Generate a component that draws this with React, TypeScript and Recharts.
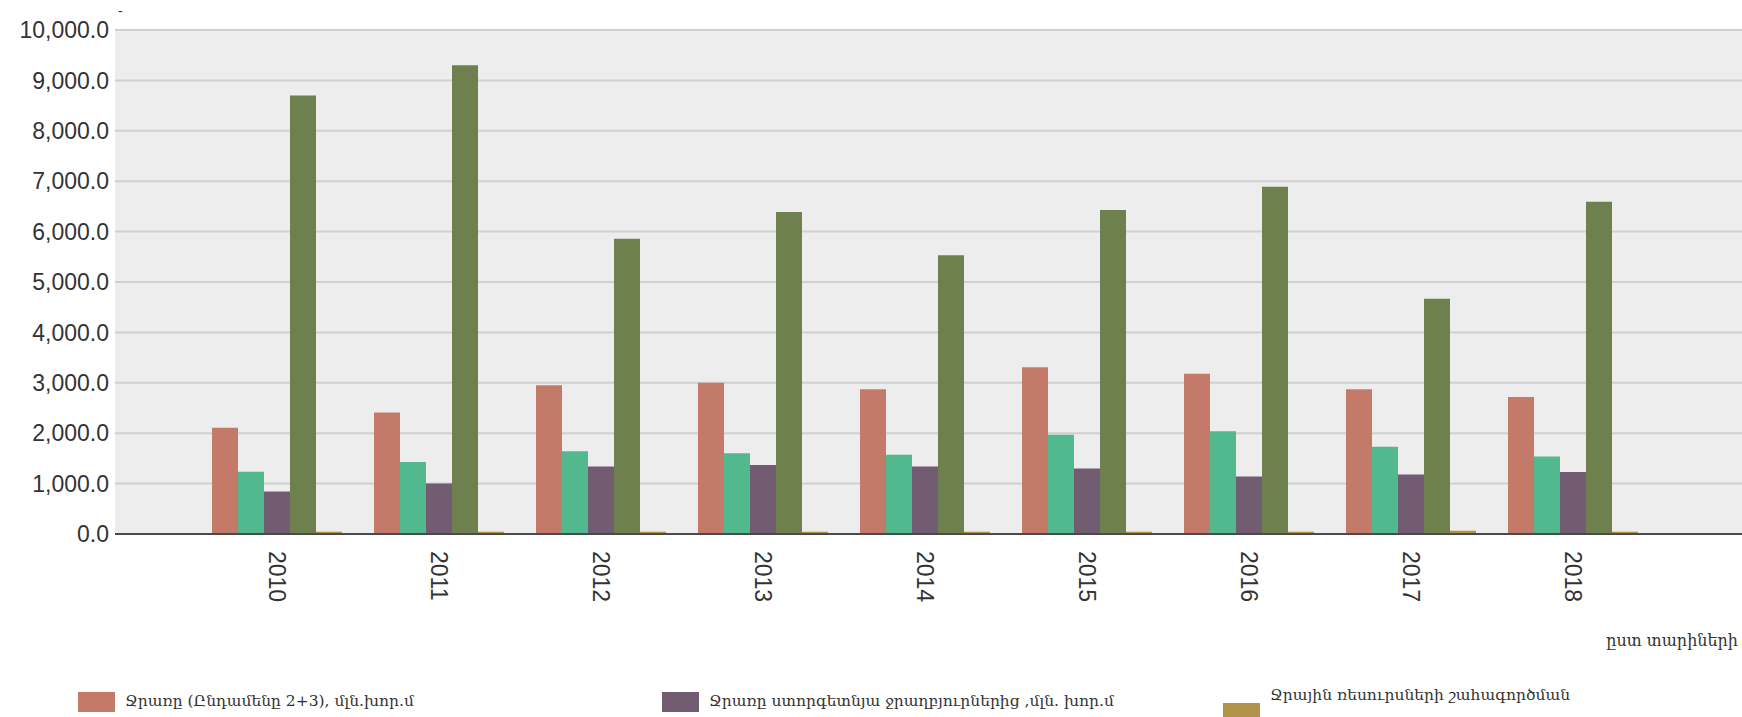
import React from 'react';
import { BarChart, Bar, XAxis, YAxis, CartesianGrid, Tooltip } from 'recharts';

// Values (million cubic metres)
const years = ['2010', '2011', '2012', '2013', '2014', '2015', '2016', '2017', '2018'];
const totalWithdrawal = [2110, 2410, 2950, 3000, 2870, 3310, 3180, 2870, 2720];
const surfaceWithdrawal = [1235, 1430, 1640, 1600, 1570, 1970, 2040, 1730, 1540];
const groundWithdrawal = [845, 1000, 1340, 1370, 1340, 1300, 1140, 1180, 1230];
const waterUse = [8700, 9300, 5860, 6390, 5530, 6430, 6890, 4670, 6590];
const resourceFees = [45, 45, 45, 45, 45, 45, 45, 65, 45];
const yTicks = [0, 1000, 2000, 3000, 4000, 5000, 6000, 7000, 8000, 9000, 10000];

const series = [
  { key: 'total', name: 'Ջրառը (Ընդամենը 2+3), մլն.խոր.մ', color: '#c47a68', values: totalWithdrawal },
  { key: 'surface', name: 'Ջրառը մակերևութային ջրաղբյուրներից, մլն.խոր.մ', color: '#52b98e', values: surfaceWithdrawal },
  { key: 'ground', name: 'Ջրառը ստորգետնյա ջրաղբյուրներից ,մլն. խոր.մ', color: '#725c72', values: groundWithdrawal },
  { key: 'use', name: 'Ջրօգտագործումը, մլն.խոր.մ', color: '#6f804f', values: waterUse },
  { key: 'fees', name: 'Ջրային ռեսուրսների  շահագործման', color: '#b09348', values: resourceFees },
];

const data = years.map((year, i) => {
  const row: Record<string, number | string> = { year };
  series.forEach((s) => {
    row[s.key] = s.values[i];
  });
  return row;
});

const fmt = (v: number) =>
  v.toLocaleString('en-US', { minimumFractionDigits: 1, maximumFractionDigits: 1 });

const YearTick = (props: any) => {
  const { x, y, payload } = props;
  return (
    <g transform={`translate(${x},${y})`}>
      <text
        transform="rotate(90)"
        x={9}
        y={0}
        dy="0.35em"
        textAnchor="start"
        fill="#333"
        fontSize={23}
        fontFamily="'Liberation Sans', Arial, sans-serif"
      >
        {payload.value}
      </text>
    </g>
  );
};

// legend is column-major in three columns; its second row lies below the picture, so only row one is drawn
const legendCols = [78, 662, 1223];

const App: React.FC = () => {
  return (
    <div
      style={{
        position: 'absolute',
        left: 0,
        top: 0,
        width: 1742,
        height: 717,
        overflow: 'hidden',
        background: '#fff',
      }}
    >
      <BarChart
        width={1742}
        height={717}
        data={data}
        margin={{ top: 30, right: 0, left: 0, bottom: 103 }}
        barGap={0}
        barSize={26}
      >
        <CartesianGrid vertical={false} fill="#ededed" stroke="#d0d0d0" strokeWidth={2} />
        <XAxis
          dataKey="year"
          height={80}
          padding={{ left: 81, right: 88 }}
          tickLine={false}
          axisLine={{ stroke: '#4a4a4a', strokeWidth: 2 }}
          tick={<YearTick />}
          interval={0}
        />
        <YAxis
          width={115}
          domain={[0, 10000]}
          ticks={yTicks}
          tickFormatter={fmt}
          tickLine={false}
          axisLine={false}
          tickMargin={0}
          tick={{ fill: '#333', fontSize: 23, fontFamily: "'Liberation Sans', Arial, sans-serif" }}
        />
        <Tooltip formatter={(v: number) => fmt(v)} />
        {series.map((s) => (
          <Bar key={s.key} dataKey={s.key} name={s.name} fill={s.color} isAnimationActive={false} />
        ))}
      </BarChart>

      <div style={{ position: 'absolute', left: 118, top: 3, fontSize: 14, color: '#333', fontFamily: 'Liberation Sans' }}>-</div>

      <div
        style={{
          position: 'absolute',
          right: 4,
          top: 631,
          fontSize: 16,
          color: '#333',
          fontFamily: "'DejaVu Serif', serif",
          whiteSpace: 'nowrap',
        }}
      >
        ըստ տարիների
      </div>

      {series.map((s, i) => {
        if (i % 2 === 1) return null;
        const col = Math.floor(i / 2);
        const isLast = i === series.length - 1;
        return (
          <div
            key={s.key}
            style={{
              position: 'absolute',
              left: legendCols[col],
              top: 692,
              display: 'flex',
              alignItems: 'flex-start',
              fontSize: 15.5,
              lineHeight: '18px',
              color: '#333',
              fontFamily: "'DejaVu Serif', serif",
              whiteSpace: 'nowrap',
            }}
          >
            <div
              style={{
                width: 37,
                height: 20,
                background: s.color,
                marginTop: isLast ? 11 : 0,
                marginRight: 10,
              }}
            />
            <div style={{ marginTop: isLast ? -6 : 0 }}>{s.name}</div>
          </div>
        );
      })}
    </div>
  );
};

export default App;
